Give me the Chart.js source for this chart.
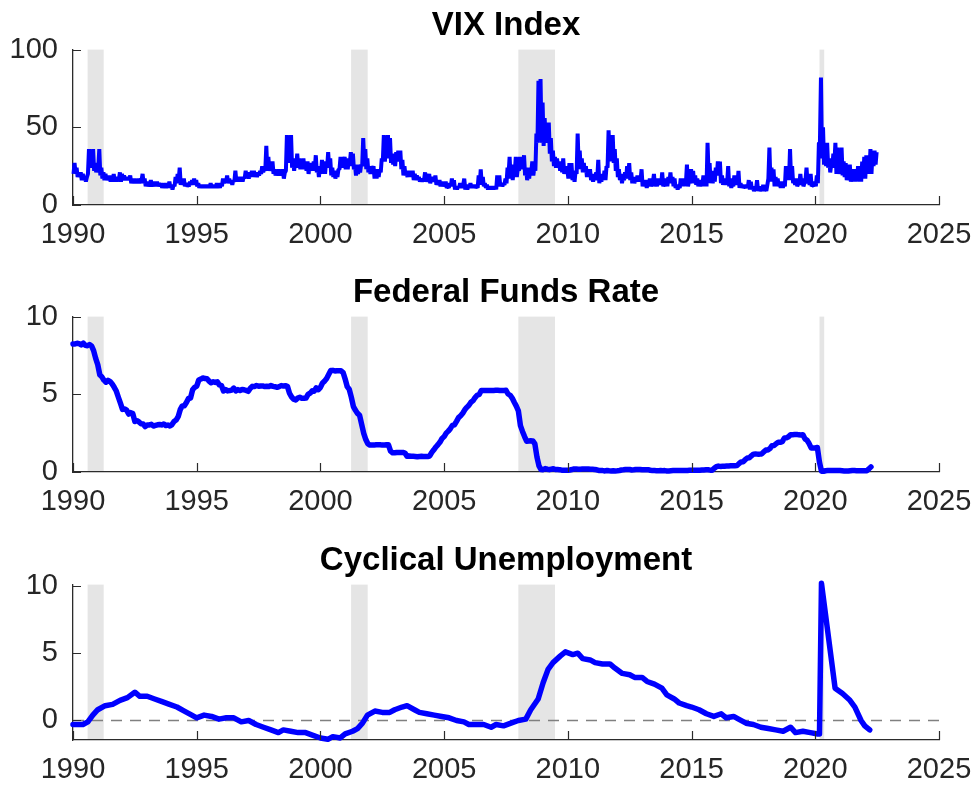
<!DOCTYPE html>
<html>
<head>
<meta charset="utf-8">
<script src="https://cdn.jsdelivr.net/npm/chart.js@4"></script>
<style>
  body { margin: 0; background: #fff; width: 975px; height: 788px; position: relative; overflow: hidden; }
  canvas { position: absolute; left: 0; }
</style>
</head>
<body>
<canvas id="vixChart" width="975" height="250" style="top:0px"></canvas>
<canvas id="ffrChart" width="975" height="250" style="top:267px"></canvas>
<canvas id="unempChart" width="975" height="250" style="top:535px"></canvas>
<script>
// x axis ticks shared by all three panels
const xTicks = [1990, 1995, 2000, 2005, 2010, 2015, 2020, 2025];

// NBER recessions (decimal years)
const recessionStart = [1990.59, 2001.24, 2008.0, 2020.17];
const recessionEnd = [1991.24, 2001.91, 2009.48, 2020.36];

// VIX: monthly low / high, Jan 1990 - Jun 2022
const vixHigh = [
  27, 24, 21, 21, 20, 18, 18, 36, 30, 36, 27, 25,
  36, 24, 21, 20, 18, 19, 18, 20, 18, 18, 21, 20,
  19, 18, 18, 19, 16, 17, 16, 17, 17, 20, 17, 15,
  14, 16, 14, 15, 15, 14, 14, 13, 14, 13, 15, 13,
  13, 18, 20, 24, 16, 17, 14, 13, 15, 16, 17, 16,
  14, 13, 13, 13, 13, 13, 14, 13, 13, 14, 13, 14,
  17, 17, 19, 17, 16, 16, 22, 18, 18, 18, 18, 22,
  21, 21, 22, 22, 21, 21, 22, 25, 24, 38, 31, 26,
  28, 23, 22, 23, 22, 23, 21, 45, 44, 45, 30, 28,
  33, 30, 28, 30, 28, 28, 25, 27, 28, 32, 25, 25,
  29, 27, 28, 34, 30, 24, 22, 21, 23, 31, 30, 31,
  30, 30, 34, 33, 26, 23, 26, 26, 43, 36, 30, 25,
  25, 25, 22, 23, 23, 30, 45, 37, 45, 43, 33, 31,
  34, 35, 35, 29, 25, 21, 22, 22, 22, 20, 19, 18,
  17, 17, 21, 17, 20, 17, 18, 19, 15, 16, 15, 14,
  15, 12, 14, 17, 16, 12, 12, 14, 13, 17, 13, 12,
  14, 13, 13, 12, 19, 23, 18, 14, 13, 12, 12, 12,
  12, 19, 19, 14, 14, 17, 24, 31, 26, 23, 31, 24,
  31, 28, 32, 24, 20, 24, 28, 24, 46, 80, 81, 66,
  56, 52, 53, 43, 35, 31, 30, 28, 27, 30, 25, 23,
  27, 27, 19, 22, 46, 35, 30, 27, 25, 22, 23, 18,
  20, 21, 29, 18, 20, 22, 25, 48, 43, 45, 36, 30,
  23, 20, 18, 21, 25, 27, 21, 18, 17, 19, 19, 23,
  15, 16, 14, 17, 14, 20, 16, 17, 17, 21, 14, 17,
  18, 21, 18, 17, 13, 12, 17, 17, 17, 26, 15, 23,
  22, 19, 17, 16, 15, 19, 19, 40, 27, 22, 20, 24,
  28, 28, 19, 17, 16, 25, 17, 14, 19, 17, 22, 14,
  13, 12, 13, 16, 15, 12, 11, 16, 12, 11, 13, 11,
  13, 37, 24, 23, 18, 17, 14, 15, 14, 25, 22, 36,
  25, 16, 17, 14, 20, 17, 14, 24, 17, 20, 13, 15,
  19, 40, 82, 50, 35, 40, 30, 26, 33, 40, 37, 24,
  37, 28, 27, 19, 26, 21, 23, 23, 25, 23, 28, 31,
  32, 32, 36, 33, 35, 34
];
const vixLow = [
  20, 20, 18, 18, 16, 16, 15, 20, 24, 27, 22, 21,
  24, 19, 17, 16, 16, 16, 15, 15, 15, 15, 16, 15,
  16, 16, 16, 16, 14, 14, 14, 14, 14, 16, 14, 12,
  12, 12, 12, 12, 12, 12, 12, 11, 11, 11, 12, 11,
  10, 12, 14, 16, 13, 13, 12, 12, 12, 13, 14, 13,
  12, 11, 11, 11, 11, 11, 11, 11, 11, 11, 11, 11,
  12, 14, 15, 14, 14, 13, 15, 15, 15, 15, 15, 17,
  18, 17, 18, 19, 18, 18, 19, 20, 21, 22, 22, 22,
  22, 20, 19, 19, 19, 19, 17, 22, 30, 27, 24, 22,
  24, 24, 23, 23, 23, 22, 20, 22, 22, 23, 21, 18,
  20, 21, 20, 24, 24, 19, 18, 17, 18, 23, 24, 25,
  23, 23, 27, 25, 23, 19, 20, 21, 25, 28, 23, 21,
  20, 21, 17, 17, 18, 21, 28, 28, 33, 30, 27, 26,
  25, 29, 28, 23, 19, 19, 18, 18, 18, 16, 16, 16,
  15, 15, 16, 15, 16, 14, 15, 15, 13, 14, 12, 12,
  12, 11, 11, 12, 12, 10, 10, 11, 11, 13, 10, 10,
  11, 11, 11, 11, 11, 13, 13, 12, 11, 10, 10, 10,
  10, 10, 13, 12, 12, 13, 14, 20, 17, 16, 21, 18,
  22, 23, 24, 19, 16, 17, 21, 19, 22, 40, 48, 40,
  38, 40, 40, 33, 28, 25, 24, 24, 22, 21, 20, 20,
  17, 19, 16, 15, 20, 25, 23, 21, 21, 18, 18, 16,
  15, 16, 17, 14, 15, 16, 16, 24, 31, 28, 27, 22,
  18, 16, 14, 16, 17, 18, 16, 14, 14, 15, 15, 16,
  12, 12, 11, 12, 12, 15, 12, 12, 13, 13, 12, 12,
  12, 14, 14, 12, 11, 10, 11, 12, 12, 14, 12, 14,
  16, 14, 13, 12, 12, 13, 12, 12, 20, 14, 14, 15,
  19, 20, 14, 13, 13, 14, 12, 11, 12, 13, 13, 11,
  11, 11, 11, 11, 10, 10, 9, 10, 9, 9, 9, 9,
  9, 17, 15, 15, 12, 12, 12, 11, 11, 12, 17, 16,
  17, 14, 13, 12, 13, 14, 12, 16, 14, 13, 12, 12,
  12, 14, 40, 30, 26, 25, 24, 21, 24, 26, 20, 20,
  21, 19, 18, 16, 16, 15, 16, 15, 17, 15, 15, 17,
  17, 22, 20, 20, 25, 26
];

// effective federal funds rate, monthly, Jan 1990 - Apr 2022
const ffrRate = [
  8.23, 8.24, 8.28, 8.26, 8.18, 8.29, 8.15, 8.13, 8.20, 8.11, 7.81, 7.31,
  6.91, 6.25, 6.12, 5.91, 5.78, 5.90, 5.82, 5.66, 5.45, 5.21, 4.81, 4.43,
  4.03, 4.06, 3.98, 3.73, 3.82, 3.76, 3.25, 3.30, 3.22, 3.10, 3.09, 2.92,
  3.02, 3.03, 3.07, 2.96, 3.00, 3.04, 3.06, 3.03, 3.09, 2.99, 3.02, 2.96,
  3.05, 3.25, 3.34, 3.56, 4.01, 4.25, 4.26, 4.47, 4.73, 4.76, 5.29, 5.45,
  5.53, 5.92, 5.98, 6.05, 6.01, 6.00, 5.85, 5.74, 5.80, 5.76, 5.80, 5.60,
  5.56, 5.22, 5.31, 5.22, 5.24, 5.27, 5.40, 5.22, 5.30, 5.24, 5.31, 5.29,
  5.25, 5.19, 5.39, 5.51, 5.50, 5.56, 5.52, 5.54, 5.54, 5.50, 5.52, 5.50,
  5.56, 5.51, 5.49, 5.45, 5.49, 5.56, 5.54, 5.55, 5.51, 5.07, 4.83, 4.68,
  4.63, 4.76, 4.81, 4.74, 4.74, 4.76, 4.99, 5.07, 5.22, 5.20, 5.42, 5.30,
  5.45, 5.73, 5.85, 6.02, 6.27, 6.53, 6.54, 6.50, 6.52, 6.51, 6.51, 6.40,
  5.98, 5.49, 5.31, 4.80, 4.21, 3.97, 3.77, 3.65, 3.07, 2.49, 2.09, 1.82,
  1.73, 1.74, 1.73, 1.75, 1.75, 1.75, 1.73, 1.74, 1.75, 1.75, 1.34, 1.24,
  1.24, 1.26, 1.25, 1.26, 1.26, 1.22, 1.01, 1.03, 1.01, 1.01, 1.00, 0.98,
  1.00, 1.01, 1.00, 1.00, 1.00, 1.03, 1.26, 1.43, 1.61, 1.76, 1.93, 2.16,
  2.28, 2.50, 2.63, 2.79, 3.00, 3.04, 3.26, 3.50, 3.62, 3.78, 4.00, 4.16,
  4.29, 4.49, 4.59, 4.79, 4.94, 4.99, 5.24, 5.25, 5.25, 5.25, 5.25, 5.24,
  5.25, 5.26, 5.26, 5.25, 5.25, 5.25, 5.26, 5.02, 4.94, 4.76, 4.49, 4.24,
  3.94, 2.98, 2.61, 2.28, 1.98, 2.00, 2.01, 2.00, 1.81, 0.97, 0.39, 0.16,
  0.15, 0.22, 0.18, 0.15, 0.18, 0.21, 0.16, 0.16, 0.15, 0.12, 0.12, 0.12,
  0.11, 0.13, 0.16, 0.20, 0.20, 0.18, 0.18, 0.19, 0.19, 0.19, 0.19, 0.18,
  0.17, 0.16, 0.14, 0.10, 0.09, 0.09, 0.07, 0.10, 0.08, 0.07, 0.08, 0.07,
  0.08, 0.10, 0.13, 0.14, 0.16, 0.16, 0.16, 0.13, 0.14, 0.16, 0.16, 0.16,
  0.14, 0.15, 0.14, 0.15, 0.11, 0.09, 0.09, 0.08, 0.08, 0.09, 0.08, 0.09,
  0.07, 0.07, 0.08, 0.09, 0.09, 0.10, 0.09, 0.09, 0.09, 0.09, 0.09, 0.12,
  0.11, 0.11, 0.11, 0.12, 0.12, 0.13, 0.13, 0.14, 0.14, 0.12, 0.12, 0.24,
  0.34, 0.38, 0.36, 0.37, 0.37, 0.38, 0.39, 0.40, 0.40, 0.40, 0.41, 0.54,
  0.65, 0.66, 0.79, 0.90, 0.91, 1.04, 1.15, 1.16, 1.15, 1.15, 1.16, 1.30,
  1.41, 1.42, 1.51, 1.69, 1.70, 1.82, 1.91, 1.91, 1.95, 2.19, 2.20, 2.27,
  2.40, 2.40, 2.41, 2.42, 2.39, 2.38, 2.40, 2.13, 2.04, 1.83, 1.55, 1.55,
  1.55, 1.58, 0.65, 0.05, 0.05, 0.08, 0.09, 0.10, 0.09, 0.09, 0.09, 0.09,
  0.09, 0.08, 0.07, 0.07, 0.06, 0.08, 0.10, 0.09, 0.08, 0.08, 0.08, 0.08,
  0.08, 0.08, 0.20, 0.33
];

// cyclical unemployment
const unempYears = [
  1990.0, 1990.4, 1990.6, 1990.8, 1991.0, 1991.3, 1991.6, 1991.9, 1992.2, 1992.5,
  1992.7, 1993.0, 1993.3, 1993.6, 1993.9, 1994.2, 1994.5, 1994.8, 1995.0, 1995.3,
  1995.6, 1995.9, 1996.2, 1996.5, 1996.8, 1997.1, 1997.4, 1997.7, 1998.0, 1998.3,
  1998.5, 1998.8, 1999.1, 1999.4, 1999.7, 2000.0, 2000.3, 2000.5, 2000.8, 2001.0,
  2001.3, 2001.5, 2001.7, 2001.9, 2002.2, 2002.5, 2002.8, 2003.0, 2003.3, 2003.5,
  2003.8, 2004.0, 2004.3, 2004.6, 2004.9, 2005.2, 2005.5, 2005.8, 2006.0, 2006.3,
  2006.6, 2006.9, 2007.1, 2007.4, 2007.7, 2008.0, 2008.3, 2008.5, 2008.8, 2009.0,
  2009.2, 2009.4, 2009.7, 2009.9, 2010.2, 2010.4, 2010.6, 2010.9, 2011.1, 2011.4,
  2011.7, 2011.9, 2012.2, 2012.5, 2012.7, 2013.0, 2013.2, 2013.5, 2013.8, 2014.0,
  2014.3, 2014.5, 2014.8, 2015.0, 2015.3, 2015.6, 2015.9, 2016.2, 2016.4, 2016.7,
  2016.9, 2017.2, 2017.5, 2017.8, 2018.1, 2018.4, 2018.7, 2019.0, 2019.2, 2019.5,
  2019.8, 2020.1, 2020.17, 2020.25, 2020.8, 2021.1, 2021.4, 2021.6, 2021.85, 2022.0,
  2022.2
];
const unempValues = [
  -0.3, -0.3, -0.1, 0.4, 0.8, 1.1, 1.2, 1.5, 1.7, 2.1,
  1.8, 1.8, 1.6, 1.4, 1.2, 1.0, 0.7, 0.4, 0.2, 0.4,
  0.3, 0.1, 0.2, 0.2, -0.1, 0.0, -0.3, -0.5, -0.7, -0.9,
  -0.7, -0.8, -0.9, -0.9, -1.1, -1.3, -1.4, -1.2, -1.3, -1.0,
  -0.8, -0.6, -0.2, 0.4, 0.7, 0.6, 0.6, 0.8, 1.0, 1.1,
  0.8, 0.6, 0.5, 0.4, 0.3, 0.2, 0.0, -0.1, -0.3, -0.3,
  -0.3, -0.5, -0.3, -0.4, -0.2, 0.0, 0.1, 0.8, 1.6, 2.8,
  3.8, 4.3, 4.8, 5.1, 4.9, 5.0, 4.6, 4.5, 4.3, 4.2,
  4.2, 3.9, 3.5, 3.4, 3.2, 3.2, 2.9, 2.7, 2.4, 1.9,
  1.6, 1.3, 1.1, 1.0, 0.8, 0.5, 0.3, 0.5, 0.2, 0.3,
  0.1, -0.2, -0.3, -0.5, -0.6, -0.7, -0.8, -0.5, -0.9, -0.8,
  -0.9, -1.0, -1.0, 10.2, 2.4, 2.0, 1.5, 1.0, 0.0, -0.4,
  -0.7
];

// zero reference line in the bottom panel
const zeroLineYears = [1990, 2025];
const zeroLineValues = [0, 0];

const fontFamily = "'Liberation Sans', Arial, Helvetica, sans-serif";
const axisColor = '#2b2b2b';
const tickColor = '#262626';
const lineBlue = '#0000ff';

const recessionShading = {
  id: 'recessionShading',
  beforeDatasetsDraw(chart) {
    const { ctx, chartArea, scales: { x } } = chart;
    ctx.save();
    ctx.fillStyle = '#e5e5e5';
    recessionStart.forEach((s, i) => {
      const x0 = x.getPixelForValue(s);
      const x1 = x.getPixelForValue(recessionEnd[i]);
      ctx.fillRect(x0, chartArea.top, x1 - x0, chartArea.bottom - chartArea.top - 1);
    });
    ctx.restore();
  }
};

// MATLAB style ticks pointing into the plot
const inwardTicks = {
  id: 'inwardTicks',
  afterDatasetsDraw(chart) {
    const { ctx, chartArea, scales: { x, y } } = chart;
    ctx.save();
    ctx.strokeStyle = axisColor;
    ctx.lineWidth = 1.2;
    ctx.beginPath();
    x.ticks.forEach(t => {
      const px = Math.round(x.getPixelForValue(t.value)) + 0.5;
      ctx.moveTo(px, chartArea.bottom);
      ctx.lineTo(px, chartArea.bottom - 9);
    });
    y.ticks.forEach(t => {
      const py = Math.round(y.getPixelForValue(t.value)) + 0.5;
      ctx.moveTo(chartArea.left, py);
      ctx.lineTo(chartArea.left + 8, py);
    });
    ctx.stroke();
    ctx.restore();
  }
};

function makeOptions(title, yMin, yMax, yTicks) {
  return {
    responsive: false,
    animation: false,
    layout: { padding: { top: 6, right: 36, bottom: 0, left: 0 } },
    plugins: {
      legend: { display: false },
      tooltip: { enabled: false },
      title: {
        display: true,
        text: title,
        color: '#000',
        fullSize: false,
        font: { family: fontFamily, size: 33, weight: 'bold', lineHeight: 1.2 },
        padding: { top: 0, bottom: 4 }
      }
    },
    scales: {
      x: {
        type: 'linear',
        min: 1990,
        max: 2025,
        afterBuildTicks: scale => { scale.ticks = xTicks.map(v => ({ value: v })); },
        afterFit: scale => { scale.height = 45; },
        // tick marks are drawn by the plugin; tickLength only spaces the labels
        grid: { display: false, drawTicks: true, tickLength: 13 },
        border: { display: true, color: axisColor, width: 1.3 },
        ticks: {
          padding: 0,
          color: tickColor,
          autoSkip: false,
          maxRotation: 0,
          font: { family: fontFamily, size: 29 },
          callback: v => String(v)
        }
      },
      y: {
        min: yMin,
        max: yMax,
        afterBuildTicks: scale => { scale.ticks = yTicks.map(v => ({ value: v })); },
        afterFit: scale => { scale.width = 73; },
        grid: { display: false, drawTicks: false },
        border: { display: true, color: axisColor, width: 1.3 },
        ticks: {
          padding: 15,
          color: tickColor,
          font: { family: fontFamily, size: 29 },
          callback: v => String(v)
        }
      }
    }
  };
}

// VIX band: low then high within each month
const vixPoints = [];
vixLow.forEach((lo, i) => {
  vixPoints.push({ x: 1990 + (i + 0.25) / 12, y: lo });
  vixPoints.push({ x: 1990 + (i + 0.75) / 12, y: vixHigh[i] });
});

const ffrPoints = ffrRate.map((v, i) => ({ x: 1990 + i / 12, y: v }));
const unempPoints = unempValues.map((v, i) => ({ x: unempYears[i], y: v }));
const zeroPoints = zeroLineValues.map((v, i) => ({ x: zeroLineYears[i], y: v }));

new Chart(document.getElementById('vixChart'), {
  type: 'line',
  data: {
    datasets: [{
      data: vixPoints,
      borderColor: lineBlue,
      borderWidth: 4,
      borderJoinStyle: 'bevel',
      pointRadius: 0,
      tension: 0,
      clip: false
    }]
  },
  options: makeOptions('VIX Index', 0, 100, [0, 50, 100]),
  plugins: [recessionShading, inwardTicks]
});

new Chart(document.getElementById('ffrChart'), {
  type: 'line',
  data: {
    datasets: [{
      data: ffrPoints,
      borderColor: lineBlue,
      borderWidth: 5.5,
      borderJoinStyle: 'round',
      borderCapStyle: 'round',
      pointRadius: 0,
      tension: 0,
      clip: false
    }]
  },
  options: makeOptions('Federal Funds Rate', 0, 10, [0, 5, 10]),
  plugins: [recessionShading, inwardTicks]
});

new Chart(document.getElementById('unempChart'), {
  type: 'line',
  data: {
    datasets: [{
      data: unempPoints,
      borderColor: lineBlue,
      borderWidth: 5.5,
      borderJoinStyle: 'round',
      borderCapStyle: 'round',
      pointRadius: 0,
      tension: 0,
      clip: false
    }, {
      data: zeroPoints,
      borderColor: '#808080',
      borderWidth: 1.5,
      borderDash: [11, 8],
      pointRadius: 0,
      tension: 0
    }]
  },
  options: makeOptions('Cyclical Unemployment', -1.45, 10.1, [0, 5, 10]),
  plugins: [recessionShading, inwardTicks]
});
</script>
</body>
</html>
